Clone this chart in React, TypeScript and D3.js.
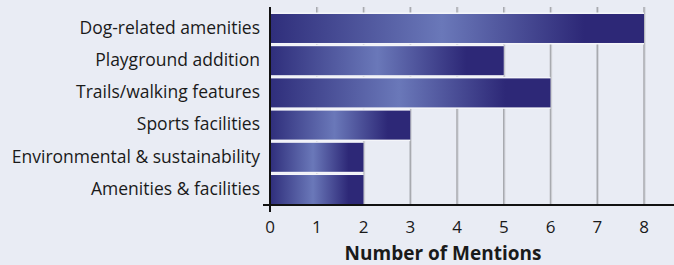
import * as d3 from "d3";

const categories = [
  "Dog-related amenities",
  "Playground addition",
  "Trails/walking features",
  "Sports facilities",
  "Environmental & sustainability",
  "Amenities & facilities",
];
const mentions = [8, 5, 6, 3, 2, 2];
const xTicks = [0, 1, 2, 3, 4, 5, 6, 7, 8];

const W = 674;
const H = 265;
const font = "'Open Sans', 'Noto Sans', sans-serif";

export default function App() {
  const x = d3.scaleLinear().domain([0, 8]).range([270, 644]);
  const y = d3.scaleBand().domain(categories).range([14, 204]).paddingInner(0.1);
  const axisY = 205;

  return (
    <svg width={W} height={H} style={{ position: "absolute", left: 0, top: 0 }}>
      <defs>
        <linearGradient id="barGrad" x1="0" x2="1" y1="0" y2="0">
          <stop offset="0%" stopColor="#2f2e7b" />
          <stop offset="46%" stopColor="#6a78b9" />
          <stop offset="84%" stopColor="#2d2877" />
          <stop offset="100%" stopColor="#2d2877" />
        </linearGradient>
      </defs>
      <rect width={W} height={H} fill="#e9ecf4" />

      {xTicks.slice(1).map((t) => (
        <g key={t}>
          <line x1={x(t) + 1.2} x2={x(t) + 1.2} y1={7} y2={axisY} stroke="#d3d5db" strokeWidth={1} />
          <line x1={x(t)} x2={x(t)} y1={7} y2={axisY} stroke="#a8aaaf" strokeWidth={1.5} />
        </g>
      ))}

      {categories.map((c, i) => (
        <rect
          key={"u" + c}
          x={x(0)}
          y={y(c)! - 1.5}
          width={x(mentions[i]) - x(0)}
          height={y.bandwidth() + 3}
          fill="#f4f5f9"
        />
      ))}
      {categories.map((c, i) => (
        <rect
          key={c}
          x={x(0)}
          y={y(c)!}
          width={x(mentions[i]) - x(0)}
          height={y.bandwidth()}
          fill="url(#barGrad)"
        />
      ))}

      {categories.map((c) => (
        <text
          key={c}
          x={260}
          y={y(c)! + y.bandwidth() / 2}
          dy="0.3em"
          textAnchor="end"
          fontFamily={font}
          fontSize={17.5}
          fill="#1a1a1a"
        >
          {c}
        </text>
      ))}

      <line x1={263} x2={674} y1={axisY} y2={axisY} stroke="#111" strokeWidth={2} />
      <line x1={x(0)} x2={x(0)} y1={7} y2={212} stroke="#111" strokeWidth={2} />

      {xTicks.map((t) => (
        <text
          key={t}
          x={x(t)}
          y={233}
          textAnchor="middle"
          fontFamily={font}
          fontSize={17}
          fill="#1a1a1a"
        >
          {t}
        </text>
      ))}

      <text
        x={443}
        y={260}
        textAnchor="middle"
        fontFamily={font}
        fontSize={19}
        fontWeight="bold"
        fill="#1a1a1a"
      >
        Number of Mentions
      </text>
    </svg>
  );
}
